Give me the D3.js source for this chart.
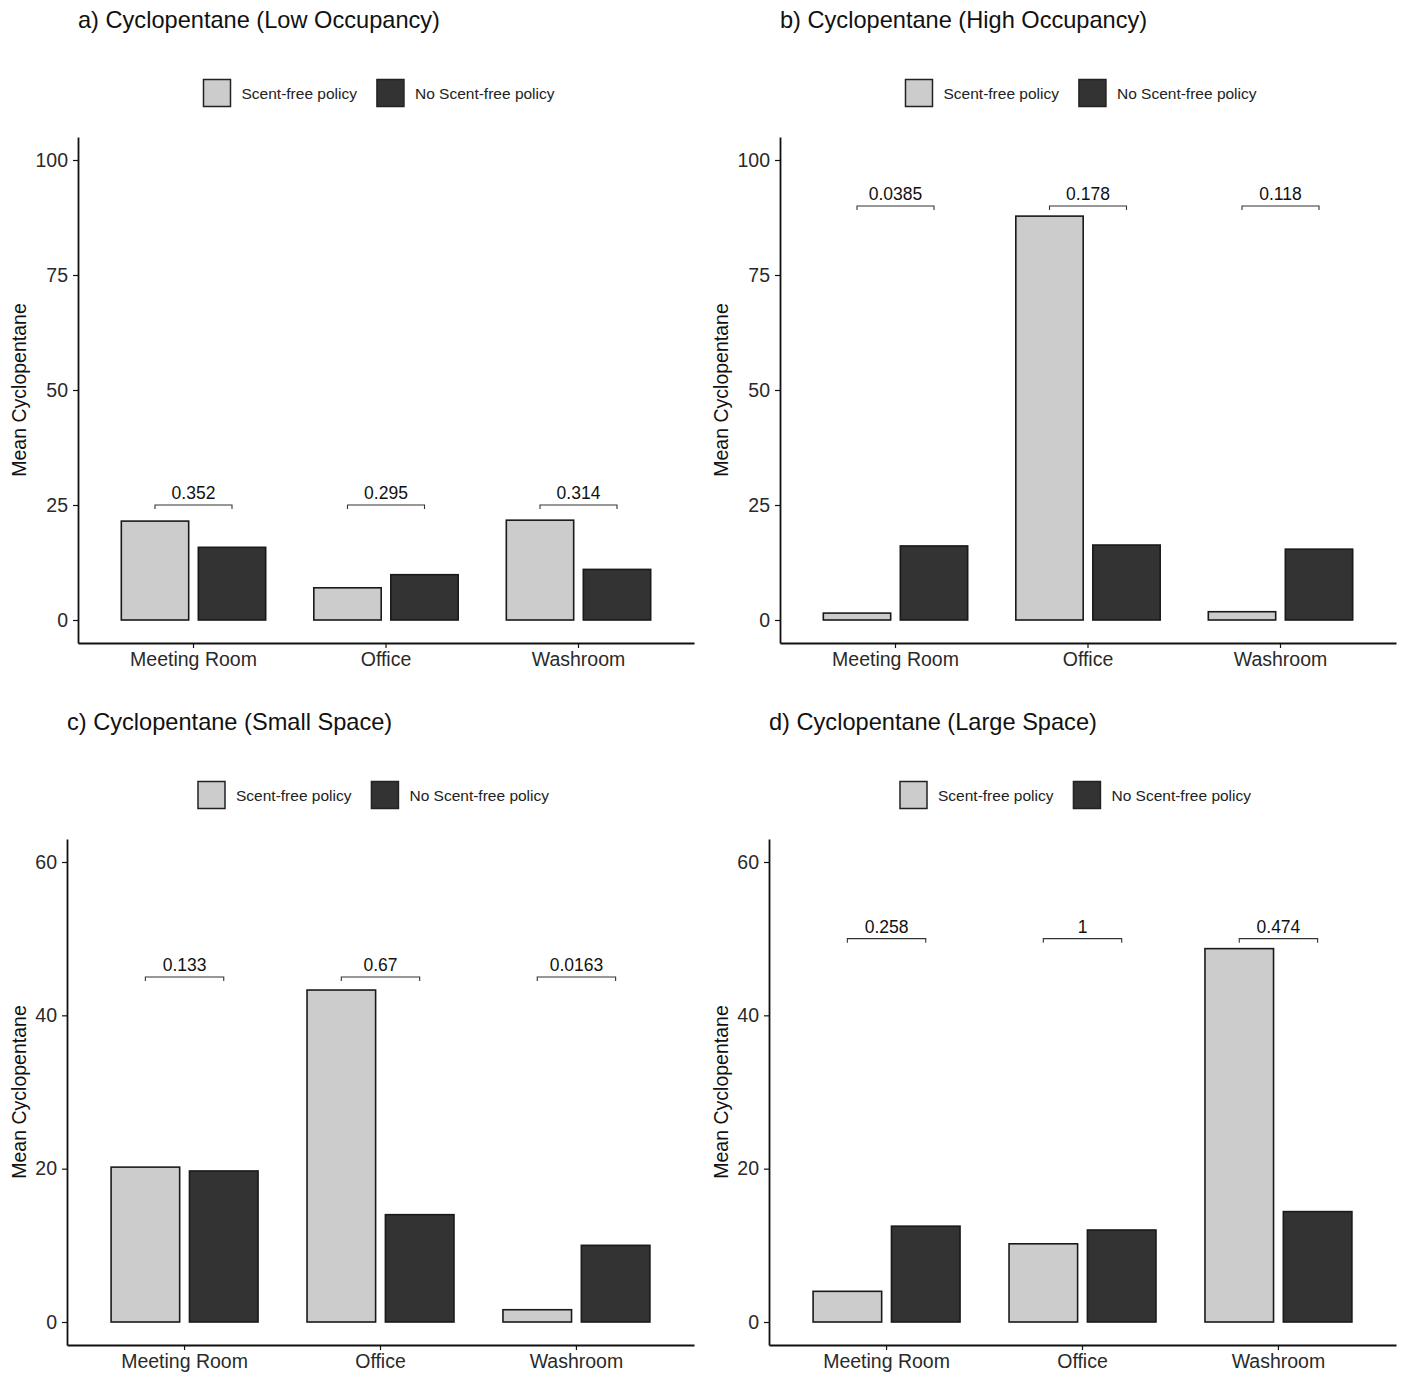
<!DOCTYPE html>
<html>
<head>
<meta charset="utf-8">
<script src="https://cdn.jsdelivr.net/npm/d3@7"></script>
<style>
  body { margin: 0; background: #fff; }
  text { font-family: "Liberation Sans", Arial, sans-serif; }
  .axis path, .axis line { stroke: #111; }
  .axis text { fill: #2a2a2a; }
</style>
</head>
<body>
<div id="chart"></div>
<script>
// categories and groups shared by all four panels
const categories = ["Meeting Room", "Office", "Washroom"];
const groups = ["Scent-free policy", "No Scent-free policy"];
const groupColors = ["#cccccc", "#333333"];

// a) low occupancy
const lowOccScent = [21.5, 7.0, 21.7];
const lowOccNoScent = [15.8, 9.85, 11.0];
const lowOccP = ["0.352", "0.295", "0.314"];

// b) high occupancy
const highOccScent = [1.5, 87.8, 1.8];
const highOccNoScent = [16.1, 16.3, 15.4];
const highOccP = ["0.0385", "0.178", "0.118"];

// c) small space
const smallScent = [20.2, 43.3, 1.6];
const smallNoScent = [19.7, 14.0, 10.0];
const smallP = ["0.133", "0.67", "0.0163"];

// d) large space
const largeScent = [4.0, 10.2, 48.7];
const largeNoScent = [12.5, 12.0, 14.4];
const largeP = ["0.258", "1", "0.474"];

// tick labels
const ticksOcc = [0, 25, 50, 75, 100];
const ticksSpace = [0, 20, 40, 60];

const W = 1409, H = 1385;
const svg = d3.select("#chart").append("svg")
  .attr("width", W).attr("height", H);

const panels = [
  {title: "a) Cyclopentane (Low Occupancy)", scent: lowOccScent, noScent: lowOccNoScent, p: lowOccP,
   bracket: 25, ticks: ticksOcc, dom: [-5, 105], x0: 0, left: 78, right: 694, top: 137, bottom: 643, y0: 0},
  {title: "b) Cyclopentane (High Occupancy)", scent: highOccScent, noScent: highOccNoScent, p: highOccP,
   bracket: 90, ticks: ticksOcc, dom: [-5, 105], x0: 702, left: 780, right: 1396, top: 137, bottom: 643, y0: 0},
  {title: "c) Cyclopentane (Small Space)", scent: smallScent, noScent: smallNoScent, p: smallP,
   bracket: 45, ticks: ticksSpace, dom: [-3, 63], x0: 0, left: 67, right: 694, top: 839, bottom: 1345, y0: 702},
  {title: "d) Cyclopentane (Large Space)", scent: largeScent, noScent: largeNoScent, p: largeP,
   bracket: 50, ticks: ticksSpace, dom: [-3, 63], x0: 702, left: 769, right: 1396, top: 839, bottom: 1345, y0: 702}
];

panels.forEach(drawPanel);

function drawPanel(cfg) {
  const g = svg.append("g");

  // title
  g.append("text")
    .attr("x", cfg.left)
    .attr("y", cfg.y0 + 28)
    .attr("font-size", 23.6)
    .attr("fill", "#111")
    .text(cfg.title);

  // legend, centred over the plot
  const legend = g.append("g");
  const key = 27;
  let lx = 0;
  groups.forEach((name, i) => {
    const item = legend.append("g").attr("transform", `translate(${lx},0)`);
    item.append("rect")
      .attr("x", 0).attr("y", -key / 2)
      .attr("width", key).attr("height", key)
      .attr("fill", groupColors[i])
      .attr("stroke", "#222").attr("stroke-width", 1.5);
    const t = item.append("text")
      .attr("x", key + 11).attr("y", 5.5)
      .attr("font-size", 15.5)
      .attr("fill", "#222")
      .text(name);
    lx += key + 11 + t.node().getComputedTextLength() + 20;
  });
  lx -= 20;
  const mid = (cfg.left + cfg.right) / 2 - 7;
  legend.attr("transform", `translate(${mid - lx / 2},${cfg.y0 + 93})`);

  // scales
  const x = d3.scaleBand()
    .domain(categories)
    .range([cfg.left, cfg.right])
    .paddingInner(0)
    .paddingOuter(0.1);
  const xg = d3.scaleBand()
    .domain(groups)
    .range([-0.4 * x.step(), 0.4 * x.step()])
    .paddingInner(0.125)
    .paddingOuter(0.0625);
  const y = d3.scaleLinear()
    .domain(cfg.dom)
    .range([cfg.bottom, cfg.top]);

  // bars
  const rows = [];
  categories.forEach((c, i) => {
    rows.push({cat: c, grp: groups[0], v: cfg.scent[i], col: groupColors[0]});
    rows.push({cat: c, grp: groups[1], v: cfg.noScent[i], col: groupColors[1]});
  });
  g.selectAll("rect.bar")
    .data(rows)
    .join("rect")
    .attr("class", "bar")
    .attr("x", d => x(d.cat) + x.bandwidth() / 2 + xg(d.grp))
    .attr("y", d => y(d.v))
    .attr("width", xg.bandwidth())
    .attr("height", d => y(0) - y(d.v))
    .attr("fill", d => d.col)
    .attr("stroke", "#1a1a1a")
    .attr("stroke-width", 1.6);

  // significance brackets
  categories.forEach((c, i) => {
    const cx = x(c) + x.bandwidth() / 2;
    const x1 = cx + xg(groups[0]) + xg.bandwidth() / 2;
    const x2 = cx + xg(groups[1]) + xg.bandwidth() / 2;
    const by = y(cfg.bracket);
    g.append("path")
      .attr("d", `M${x1},${by + 4}V${by}H${x2}V${by + 4}`)
      .attr("fill", "none")
      .attr("stroke", "#333")
      .attr("stroke-width", 1.1);
    g.append("text")
      .attr("x", cx)
      .attr("y", by - 6)
      .attr("text-anchor", "middle")
      .attr("font-size", 17.5)
      .attr("fill", "#111")
      .text(cfg.p[i]);
  });

  // axes
  const yAxis = g.append("g")
    .attr("class", "axis")
    .attr("transform", `translate(${cfg.left},0)`)
    .call(d3.axisLeft(y).tickValues(cfg.ticks).tickSizeInner(5).tickSizeOuter(0).tickPadding(5));
  yAxis.select(".domain").attr("stroke-width", 1.8);
  yAxis.selectAll(".tick line").attr("stroke-width", 1.2);
  yAxis.selectAll("text").attr("font-size", 19.5).attr("font-family", "Liberation Sans, Arial, sans-serif");

  const xAxis = g.append("g")
    .attr("class", "axis")
    .attr("transform", `translate(0,${cfg.bottom})`)
    .call(d3.axisBottom(x).tickSizeInner(5).tickSizeOuter(0).tickPadding(4));
  xAxis.select(".domain").attr("stroke-width", 2);
  xAxis.selectAll(".tick line").attr("stroke-width", 1.2);
  xAxis.selectAll("text").attr("font-size", 19.5).attr("font-family", "Liberation Sans, Arial, sans-serif");

  // y axis title
  g.append("text")
    .attr("transform", `translate(${cfg.x0 + 26},${(cfg.top + cfg.bottom) / 2}) rotate(-90)`)
    .attr("text-anchor", "middle")
    .attr("font-size", 19.5)
    .attr("fill", "#111")
    .text("Mean Cyclopentane");
}
</script>
</body>
</html>
